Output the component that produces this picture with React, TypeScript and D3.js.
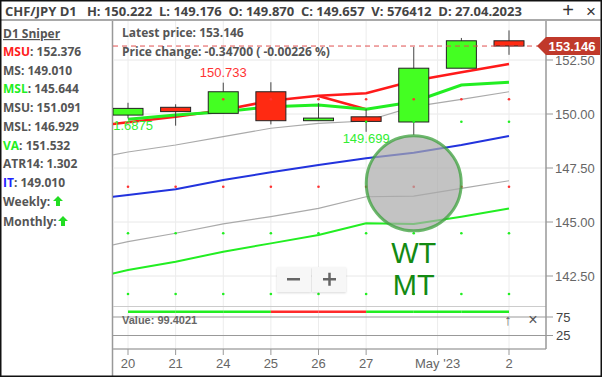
import React from "react";
import * as d3 from "d3";

const categories = ["20", "21", "24", "25", "26", "27", "28", "1", "2"];
const open = [149.95, 150.31, 150.03, 151.03, 149.69, 149.87, 149.63, 152.12, 153.39];
const close = [150.26, 150.11, 151.03, 149.69, 149.81, 149.657, 152.12, 153.39, 153.146];
const high = [150.52, 150.45, 151.45, 151.47, 150.5, 150.222, 153.1, 153.52, 153.87];
const low = [149.8, 149.46, 150.03, 149.52, 149.69, 149.176, 149.03, 152.12, 152.74];

// line series; index -1 point first (drawn off the left edge)
const msuUpper = [149.37, 149.62, 149.875, 150.185, 150.616, 150.847, 150.958, 151.54, 151.93, 152.31];
const vaLine = [null, 149.755, 149.954, 150.106, 150.338, 150.417, 150.218, 150.57, 151.34, 151.47];
const msuGray = [147.82, 148.24, 148.565, 148.95, 149.34, 149.57, 149.676, 150.34, 150.68, 151.03];
const itLine = [145.99, 146.255, 146.514, 146.944, 147.3, 147.64, 147.95, 148.21, 148.565, 148.98];
const mslGray = [143.61, 144.09, 144.48, 144.91, 145.25, 145.63, 146.17, 146.2, 146.56, 146.91];
const mslGreen = [142.27, 142.78, 143.16, 143.625, 144.01, 144.4, 144.94, 144.91, 145.245, 145.63];
const redSegIdx = [4, 5];
const redSegVals = [150.833, 150.218];

const redDotsHigh = [null, null, 150.68, 150.68, 150.68, 150.68, 150.68, 150.68, 150.68];
const redDotsLow = [146.63, 146.63, 146.63, 146.63, 146.63, 146.63, 146.63, 146.63, 146.63];
const greenDotsHigh = [null, null, null, null, null, 149.64, 149.64, 149.64, 149.64];
const greenDotsMid = [144.48, 144.48, 144.48, 144.48, 144.48, 144.48, 144.48, 144.48, 144.48];
const greenDotsLow = [141.67, 141.67, 141.67, 141.67, 141.67, 141.67, 141.67, 141.67, 141.67];

const indicatorVals = [94.4, 94.4, 94.4, 94.4, 94.4, 94.4, 94.4, 94.4, 94.4];
const indicatorColors = ["g", "g", "g", "r", "r", "g", "g", "g"];

const yTicks = [142.5, 145, 147.5, 150, 152.5];
const xTickLabels = [
  { i: 0, t: "20" }, { i: 1, t: "21" }, { i: 2, t: "24" }, { i: 3, t: "25" },
  { i: 4, t: "26" }, { i: 5, t: "27" }, { i: 6.5, t: "May '23" }, { i: 8, t: "2" },
];
const gridIdx = [0, 1, 2, 3, 4, 5, 6.5, 8];
const latestPrice = 153.146;

const panelRows = [
  { k: "MSU", v: "152.376", c: "#ff2020" },
  { k: "MS", v: "149.010", c: "#555" },
  { k: "MSL", v: "145.644", c: "#22ee22" },
  { k: "MSU", v: "151.091", c: "#555" },
  { k: "MSL", v: "146.929", c: "#555" },
  { k: "VA", v: "151.532", c: "#22ee22" },
  { k: "ATR14", v: "1.302", c: "#555" },
  { k: "IT", v: "149.010", c: "#2020ff" },
];

export default function App() {
  const W = 602, H = 377;
  const plotL = 113, plotR = 546, plotT = 21, plotB = 306;
  const x = d3.scaleLinear().domain([0, 8]).range([128, 509]);
  const y = d3.scaleLinear().domain([142.5, 152.5]).range([276, 60]);
  const yi = d3.scaleLinear().domain([25, 75]).range([335.5, 317]);
  const font = "'Open Sans', sans-serif";
  const axisFont = "'Liberation Sans', Arial, sans-serif";

  const mkLine = (arr: (number | null)[]) =>
    d3.line<number | null>()
      .defined((d) => d !== null)
      .x((_, i) => x(i - 1))
      .y((d) => y(d as number))(arr) || "";

  const dotRow = (arr: (number | null)[], color: string, key: string) =>
    arr.map((v, i) => v === null ? null : (
      <circle key={key + i} cx={x(i)} cy={y(v)} r={1.3} fill={color} />
    ));

  const bw = 30;
  return (
    <svg width={W} height={H} style={{ position: "absolute", left: 0, top: 0, background: "#fff" }}>
      <defs>
        <clipPath id="plot"><rect x={plotL} y={plotT} width={plotR - plotL} height={plotB - plotT} /></clipPath>
        <filter id="sh" x="-20%" y="-20%" width="140%" height="140%">
          <feDropShadow dx="0" dy="1" stdDeviation="1" floodColor="#000" floodOpacity="0.15" />
        </filter>
      </defs>
      <rect x={0} y={0} width={W} height={H} fill="#fff" />
      {/* top bar */}
      <text x={5} y={16} fontFamily={font} fontWeight={700} fontSize={13} fill="#444" style={{ whiteSpace: "pre" }}>
        {"CHF/JPY D1   H: 150.222  L: 149.176  O: 149.870  C: 149.657  V: 576412  D: 27.04.2023"}
      </text>
      <text x={568} y={17} fontFamily={axisFont} fontSize={20} fill="#333" textAnchor="middle">+</text>
      <text x={591} y={17} fontFamily={axisFont} fontSize={17} fill="#333" textAnchor="middle">×</text>
      <line x1={0} x2={W} y1={20} y2={20} stroke="#555" strokeWidth={1} />

      {/* left panel */}
      <text x={3} y={38} fontFamily={font} fontWeight={700} fontSize={12} fill="#555" textDecoration="underline">D1 Sniper</text>
      {panelRows.map((r, i) => (
        <text key={i} x={3} y={56 + i * 18.7} fontFamily={font} fontWeight={700} fontSize={12} fill="#555">
          <tspan fill={r.c}>{r.k}</tspan>: {r.v}
        </text>
      ))}
      <text x={3} y={206} fontFamily={font} fontWeight={700} fontSize={12} fill="#555">Weekly:</text>
      <text x={3} y={226} fontFamily={font} fontWeight={700} fontSize={12} fill="#555">Monthly:</text>
      <path d="M58,196 l5,5 h-3 v5 h-4 v-5 h-3 z" fill="#22dd22" />
      <path d="M63,216 l5,5 h-3 v5 h-4 v-5 h-3 z" fill="#22dd22" />
      <line x1={112.5} x2={112.5} y1={21} y2={H} stroke="#999" strokeWidth={1.5} />

      {/* gridlines */}
      {yTicks.map((t) => (
        <line key={"hg" + t} x1={plotL} x2={plotR} y1={y(t)} y2={y(t)} stroke="#e8e8e8" strokeWidth={1} />
      ))}
      {gridIdx.map((g) => (
        <line key={"vg" + g} x1={x(g)} x2={x(g)} y1={plotT} y2={349} stroke="#ececec" strokeWidth={1} />
      ))}

      <g clipPath="url(#plot)">
        <path d={mkLine(mslGray)} fill="none" stroke="#aaa" strokeWidth={1.2} />
        <path d={mkLine(msuGray)} fill="none" stroke="#aaa" strokeWidth={1.2} />
        <path d={mkLine(itLine)} fill="none" stroke="#2233dd" strokeWidth={2} />
        <path d={mkLine(mslGreen)} fill="none" stroke="#22ee22" strokeWidth={2} />
        <path d={mkLine(msuUpper)} fill="none" stroke="#ff1a1a" strokeWidth={2.5} />
        <path d={d3.line<number>().x((_, i) => x(redSegIdx[i])).y((d) => y(d))(redSegVals) || ""} fill="none" stroke="#ff1a1a" strokeWidth={2.5} />
        <path d={mkLine(vaLine)} fill="none" stroke="#22ee22" strokeWidth={3} />

        {categories.map((c, i) => {
          const up = close[i] >= open[i];
          const top = y(Math.max(open[i], close[i]));
          const bot = y(Math.min(open[i], close[i]));
          return (
            <g key={"c" + i}>
              <line x1={x(i)} x2={x(i)} y1={y(high[i])} y2={y(low[i])} stroke="#444" strokeWidth={1} />
              <rect x={x(i) - bw / 2} y={top} width={bw} height={Math.max(1, bot - top)}
                fill={up ? "#44ff22" : "#ff2a12"} stroke="#222" strokeWidth={1} />
            </g>
          );
        })}

        {dotRow(redDotsHigh, "#ff3333", "rh")}
        {dotRow(redDotsLow, "#ff3333", "rl")}
        {dotRow(greenDotsHigh, "#22ee22", "gh")}
        {dotRow(greenDotsMid, "#22ee22", "gm")}
        {dotRow(greenDotsLow, "#22ee22", "gl")}

        <text x={x(2)} y={77} fontFamily={axisFont} fontSize={13} fill="#ff3333" textAnchor="middle">150.733</text>
        <text x={x(5)} y={143} fontFamily={axisFont} fontSize={13} fill="#33ee33" textAnchor="middle">149.699</text>
        <text x={153} y={130} fontFamily={axisFont} fontSize={13} fill="#33ee33" textAnchor="end">151.6875</text>

        <circle cx={x(6)} cy={183.3} r={47.5} fill="rgba(170,170,170,0.7)" stroke="rgba(60,160,60,0.75)" strokeWidth={3} />
        <text x={x(6)} y={263} fontFamily={axisFont} fontSize={29} fill="#138a13" textAnchor="middle">WT</text>
        <text x={x(6)} y={295} fontFamily={axisFont} fontSize={29} fill="#138a13" textAnchor="middle">MT</text>
      </g>

      {/* latest price */}
      <line x1={plotL} x2={plotR} y1={y(latestPrice)} y2={y(latestPrice)} stroke="#e05050" strokeWidth={1} strokeDasharray="5,4" />
      <text x={122} y={37} fontFamily={font} fontWeight={700} fontSize={12} fill="#555">Latest price: {latestPrice.toFixed(3)}</text>
      <text x={122} y={56} fontFamily={font} fontWeight={700} fontSize={12} fill="#555">Price change: -0.34700 ( -0.00226 %)</text>

      {/* zoom buttons */}
      <g filter="url(#sh)">
        <rect x={277} y={267} width={34} height={25} fill="#f7f7f7" />
        <rect x={312} y={267} width={34} height={25} fill="#f7f7f7" />
      </g>
      <rect x={287} y={278} width={13} height={2.5} fill="#666" />
      <rect x={323} y={278} width={13} height={2.5} fill="#666" />
      <rect x={328.25} y={272.75} width={2.5} height={13} fill="#666" />

      {/* indicator pane */}
      <line x1={plotL} x2={plotR} y1={306.5} y2={306.5} stroke="#ccc" strokeWidth={1} />
      <line x1={plotL} x2={plotR} y1={yi(75)} y2={yi(75)} stroke="#999" strokeWidth={1} />
      <line x1={plotL} x2={plotR} y1={yi(25)} y2={yi(25)} stroke="#999" strokeWidth={1} />
      {indicatorColors.map((c, i) => (
        <line key={"ind" + i} x1={x(i)} x2={x(i + 1)} y1={yi(indicatorVals[i]) + 2} y2={yi(indicatorVals[i + 1]) + 2}
          stroke={c === "g" ? "#22ee22" : "#ff2a2a"} strokeWidth={2.5} />
      ))}
      <text x={122} y={324} fontFamily={axisFont} fontWeight={700} fontSize={11} fill="#666">Value: 99.4021</text>
      <text x={508} y={325} fontFamily={axisFont} fontSize={15} fill="#666" textAnchor="middle">↑</text>
      <text x={533} y={325} fontFamily={axisFont} fontSize={16} fill="#555" textAnchor="middle">×</text>
      <line x1={plotL} x2={plotR} y1={349} y2={349} stroke="#aaa" strokeWidth={1.5} />
      <text x={556} y={322} fontFamily={axisFont} fontSize={13} fill="#444">75</text>
      <text x={556} y={340} fontFamily={axisFont} fontSize={13} fill="#444">25</text>

      {/* y axis */}
      <line x1={plotR} x2={plotR} y1={plotT} y2={349} stroke="#999" strokeWidth={1.5} />
      {yTicks.map((t) => (
        <g key={"yt" + t}>
          <line x1={plotR} x2={plotR + 7} y1={y(t)} y2={y(t)} stroke="#999" />
          <text x={555} y={y(t) + 5} fontFamily={axisFont} fontSize={13} fill="#666">{t.toFixed(2)}</text>
        </g>
      ))}
      <line x1={plotR} x2={plotR + 7} y1={yi(75)} y2={yi(75)} stroke="#999" />
      <line x1={plotR} x2={plotR + 7} y1={yi(25)} y2={yi(25)} stroke="#999" />

      {/* price flag */}
      <path d={`M537,${y(latestPrice)} L546,${y(latestPrice) - 9} H600 V${y(latestPrice) + 9} H546 Z`} fill="#c0392b" />
      <text x={572} y={y(latestPrice) + 5} fontFamily={axisFont} fontWeight={700} fontSize={13} fill="#fff" textAnchor="middle">{latestPrice.toFixed(3)}</text>

      {/* x axis */}
      {xTickLabels.map((t) => (
        <g key={"xt" + t.t}>
          <line x1={x(t.i)} x2={x(t.i)} y1={349} y2={355} stroke="#999" />
          <text x={x(t.i)} y={368} fontFamily={axisFont} fontSize={13} fill="#666" textAnchor="middle">{t.t}</text>
        </g>
      ))}

      <rect x={0.75} y={0.75} width={W - 1.5} height={H - 1.5} fill="none" stroke="#111" strokeWidth={1.5} />
    </svg>
  );
}
